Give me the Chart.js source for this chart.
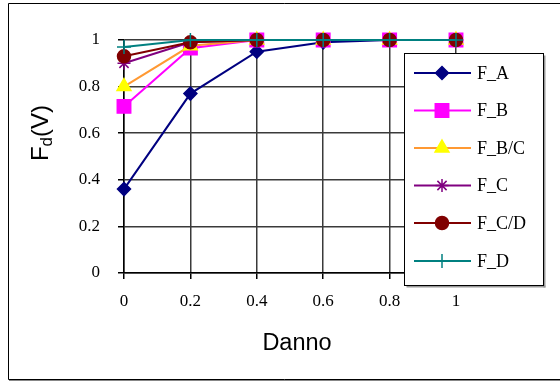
<!DOCTYPE html>
<html>
<head>
<meta charset="utf-8">
<script src="https://cdn.jsdelivr.net/npm/chart.js@4/dist/chart.umd.min.js"></script>
<style>
  html, body { margin: 0; padding: 0; background: #fff; }
  #wrap { position: relative; width: 560px; height: 381px; }
</style>
</head>
<body>
<div id="wrap"><canvas id="c" width="560" height="381"></canvas></div>
<script>
// Damage levels on the x axis
const danno = [0, 0.2, 0.4, 0.6, 0.8, 1];

// Fragility values per damage state
const F_A  = [0.36, 0.77, 0.95, 0.99, 1, 1];
const F_B  = [0.715, 0.965, 1, 1, 1, 1];
const F_BC = [0.80, 0.975, 1, 1, 1, 1];
const F_C  = [0.90, 0.99, 1, 1, 1, 1];
const F_CD = [0.93, 0.99, 1, 1, 1, 1];
const F_D  = [0.97, 1, 1, 1, 1, 1];

const seriesNames = ['F_A', 'F_B', 'F_B/C', 'F_C', 'F_C/D', 'F_D'];
const xTickLabels = ['0', '0.2', '0.4', '0.6', '0.8', '1'];
const yTickLabels = ['0', '0.2', '0.4', '0.6', '0.8', '1'];

const styles = [
  { line: '#000080', fill: '#000080', edge: '#000080', shape: 'rectRot', r: 6.5 },
  { line: '#FF00FF', fill: '#FF00FF', edge: '#FF00FF', shape: 'rect',    r: 9.5 },
  { line: '#FF9933', fill: '#FFFF00', edge: '#FFFF00', shape: 'triangle', r: 8 },
  { line: '#800080', fill: '#800080', edge: '#800080', shape: 'star',    r: 6.5 },
  { line: '#800000', fill: '#800000', edge: '#800000', shape: 'circle',  r: 6.5 },
  { line: '#008080', fill: '#008080', edge: '#008080', shape: 'cross',   r: 7 }
];

const values = [F_A, F_B, F_BC, F_C, F_CD, F_D];

const datasets = values.map((vals, i) => ({
  label: seriesNames[i],
  data: vals.map((v, k) => ({ x: danno[k], y: v })),
  borderColor: styles[i].line,
  borderWidth: 2,
  pointStyle: styles[i].shape,
  pointRadius: styles[i].r,
  pointBackgroundColor: styles[i].fill,
  pointBorderColor: styles[i].edge,
  pointBorderWidth: 1.5,
  fill: false,
  tension: 0,
  // later series sit on top
  order: values.length - i,
  clip: false
}));

// white page with the outer frame
const framePlugin = {
  id: 'frame',
  beforeDraw(chart) {
    const ctx = chart.ctx;
    ctx.save();
    ctx.fillStyle = '#fff';
    ctx.fillRect(0, 0, chart.width, chart.height);
    ctx.strokeStyle = '#000';
    ctx.lineWidth = 1;
    ctx.beginPath();
    ctx.moveTo(570, 3.5);
    ctx.lineTo(8.5, 3.5);
    ctx.lineTo(8.5, 379.5);
    ctx.lineTo(570, 379.5);
    ctx.stroke();
    ctx.strokeStyle = '#888';
    ctx.beginPath();
    ctx.moveTo(9, 380.5);
    ctx.lineTo(570, 380.5);
    ctx.stroke();
    ctx.restore();
  }
};

// axis titles
const titlePlugin = {
  id: 'titles',
  afterDraw(chart) {
    const ctx = chart.ctx;
    ctx.save();
    ctx.fillStyle = '#000';
    ctx.textBaseline = 'alphabetic';
    ctx.textAlign = 'center';
    ctx.font = '23.5px "Liberation Sans", Arial, sans-serif';
    ctx.fillText('Danno', 297, 350);

    // F_d(V) rotated, with subscript d
    const big = '24px "Liberation Sans", Arial, sans-serif';
    const small = '17px "Liberation Sans", Arial, sans-serif';
    ctx.font = big;
    const wF = ctx.measureText('F').width;
    const wRest = ctx.measureText('(V)').width;
    ctx.font = small;
    const wd = ctx.measureText('d').width;
    const total = wF + wd + wRest;
    ctx.translate(48, 133);
    ctx.rotate(-Math.PI / 2);
    ctx.textAlign = 'left';
    let x = -total / 2;
    ctx.font = big;
    ctx.fillText('F', x, 0);
    x += wF;
    ctx.font = small;
    ctx.fillText('d', x, 4);
    x += wd;
    ctx.font = big;
    ctx.fillText('(V)', x, 0);
    ctx.restore();
  }
};

// boxed legend drawn over the plot
const legendPlugin = {
  id: 'boxLegend',
  afterDraw(chart) {
    const ctx = chart.ctx;
    const L = 404.5, T = 53.5, R = 543.5, B = 285.5;
    ctx.save();
    ctx.fillStyle = '#999';
    ctx.fillRect(L + 2, B, R - L, 2);
    ctx.fillRect(R, T + 2, 2, B - T);
    ctx.fillStyle = '#fff';
    ctx.fillRect(L, T, R - L, B - T);
    ctx.strokeStyle = '#000';
    ctx.lineWidth = 1;
    ctx.strokeRect(L, T, R - L, B - T);

    const rows = [73, 110.5, 148, 185.5, 223, 261];
    ctx.font = '18px "Liberation Serif", "Times New Roman", serif';
    ctx.textBaseline = 'middle';
    ctx.textAlign = 'left';
    seriesNames.forEach((name, i) => {
      const y = rows[i];
      const st = styles[i];
      ctx.strokeStyle = st.line;
      ctx.lineWidth = 2;
      ctx.beginPath();
      ctx.moveTo(414, y);
      ctx.lineTo(471, y);
      ctx.stroke();
      ctx.fillStyle = st.fill;
      ctx.strokeStyle = st.edge;
      ctx.lineWidth = 1.5;
      Chart.helpers.drawPoint(ctx, {
        pointStyle: st.shape, radius: st.r, borderWidth: 1.5, rotation: 0
      }, 442, y);
      ctx.fillStyle = '#000';
      ctx.fillText(name, 477, y + 1);
    });
    ctx.restore();
  }
};

new Chart(document.getElementById('c'), {
  type: 'line',
  data: { datasets },
  options: {
    responsive: false,
    animation: false,
    devicePixelRatio: 1,
    layout: { padding: { left: 0, right: 104, top: 40, bottom: 0 } },
    plugins: { legend: { display: false }, tooltip: { enabled: false } },
    scales: {
      x: {
        type: 'linear',
        min: 0, max: 1,
        afterFit(s) { s.height = 108; },
        afterBuildTicks(s) { s.ticks = danno.map(v => ({ value: v })); },
        ticks: {
          callback: (v, i) => xTickLabels[i],
          font: { family: '"Liberation Serif", "Times New Roman", serif', size: 17 },
          color: '#000',
          padding: 12,
          maxRotation: 0
        },
        grid: { color: '#3a3a3a', lineWidth: 1.5, tickLength: 6, tickColor: '#000' },
        border: { color: '#000', width: 1.5 }
      },
      y: {
        min: 0, max: 1,
        afterFit(s) { s.width = 124; },
        afterBuildTicks(s) { s.ticks = [0, 0.2, 0.4, 0.6, 0.8, 1].map(v => ({ value: v })); },
        ticks: {
          callback: (v, i) => yTickLabels[i],
          font: { family: '"Liberation Serif", "Times New Roman", serif', size: 17 },
          color: '#000',
          padding: 18
        },
        grid: { color: '#3a3a3a', lineWidth: 1.5, tickLength: 6, tickColor: '#000' },
        border: { color: '#000', width: 1.5 }
      }
    }
  },
  plugins: [framePlugin, titlePlugin, legendPlugin]
});
</script>
</body>
</html>
